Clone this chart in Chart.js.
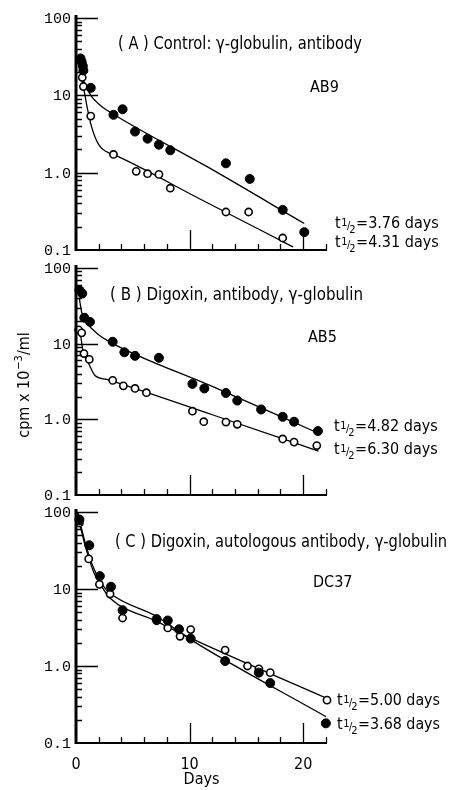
<!DOCTYPE html>
<html>
<head>
<meta charset="utf-8">
<script src="https://cdn.jsdelivr.net/npm/chart.js@4.4.1/dist/chart.umd.min.js"></script>
<style>
	body { margin: 0; background: #fff; }
	canvas { position: absolute; left: 0; }
</style>
</head>
<body>
<canvas id="chartA" width="449" height="262" style="top:0px"></canvas>
<canvas id="chartB" width="449" height="250" style="top:258px"></canvas>
<canvas id="chartC" width="449" height="285" style="top:505px"></canvas>
<script>
// axis ticks
let yTickValues = [0.1, 1, 10, 100]
let yTickLabels = ['0.1', '1.0', '10', '100']
let xTickValues = [0, 10, 20]

// (A) Control: AB9
let aFilledDays = [0.4, 0.5, 0.6, 0.65, 1.3, 3.3, 4.1, 5.2, 6.3, 7.3, 8.3, 13.2, 15.3, 18.2, 20.1]
let aFilledCpm = [30, 27, 24, 21, 12.5, 5.6, 6.6, 3.4, 2.75, 2.3, 1.95, 1.32, 0.83, 0.33, 0.17]
let aOpenDays = [0.55, 0.65, 1.3, 3.3, 5.3, 6.3, 7.3, 8.3, 13.2, 15.2, 18.2]
let aOpenCpm = [17, 13, 5.4, 1.72, 1.04, 0.97, 0.95, 0.63, 0.31, 0.31, 0.143]
let aFitFilledDays = [0.3, 0.7, 1.3, 2.1, 3.3, 11.7, 20.1]
let aFitFilledCpm = [24, 15, 10, 7.5, 5.7, 1.16, 0.22]
let aFitOpenDays = [0.35, 0.65, 1.0, 1.4, 2.0, 2.7, 3.3, 11, 19.1]
let aFitOpenCpm = [21, 13, 6.8, 3.8, 2.3, 1.86, 1.72, 0.45, 0.11]

// (B) Digoxin: AB5
let bFilledDays = [0.3, 0.55, 0.73, 1.23, 3.23, 4.26, 5.2, 7.3, 10.25, 11.3, 13.2, 14.2, 16.3, 18.2, 19.2, 21.3]
let bFilledCpm = [51, 46, 22, 19.4, 10.6, 7.7, 6.9, 6.5, 2.94, 2.56, 2.23, 1.77, 1.35, 1.08, 0.93, 0.7]
let bOpenDays = [0.23, 0.5, 0.7, 1.17, 3.23, 4.17, 5.2, 6.2, 10.25, 11.25, 13.2, 14.2, 18.2, 19.2, 21.2]
let bOpenCpm = [15.2, 13.9, 7.4, 6.2, 3.27, 2.77, 2.56, 2.25, 1.28, 0.93, 0.92, 0.86, 0.55, 0.5, 0.45]
let bFitFilledDays = [0.3, 0.5, 0.94, 1.97, 3.2, 12, 21.3]
let bFitFilledCpm = [39, 26, 19, 13.2, 10.1, 2.72, 0.66]
let bFitOpenDays = [0.35, 0.65, 1.08, 1.67, 2.7, 3.2, 12, 21.35]
let bFitOpenCpm = [14.7, 7.6, 5.6, 3.8, 3.37, 3.2, 1.15, 0.38]

// (C) Digoxin, autologous antibody: DC37
let cFilledDays = [0.3, 1.17, 2.1, 3.08, 4.1, 7.1, 8.08, 9.07, 10.1, 13.13, 16.1, 17.1, 22.0]
let cFilledCpm = [80, 37, 14.7, 10.7, 5.3, 4.07, 3.9, 3.0, 2.27, 1.16, 0.82, 0.6, 0.18]
let cOpenDays = [0.3, 1.12, 2.06, 3.0, 4.1, 7.1, 8.08, 9.16, 10.1, 13.13, 15.1, 16.1, 17.1, 22.1]
let cOpenCpm = [72, 24.6, 11.5, 8.6, 4.2, 3.87, 3.12, 2.43, 2.97, 1.61, 1.0, 0.92, 0.82, 0.36]
let cFitFilledDays = [0, 0.5, 1.0, 1.6, 2.3, 3.0, 7.1, 10.1, 22]
let cFitFilledCpm = [130, 60, 32, 18, 11.5, 8.8, 4.4, 2.2, 0.22]
let cFitOpenDays = [0, 0.5, 1.0, 1.6, 2.3, 3.0, 7.1, 10.1, 22.1]
let cFitOpenCpm = [120, 55, 29, 16, 10.5, 7.6, 3.8, 2.3, 0.38]

let sansFont = '"DejaVu Sans Condensed", "DejaVu Sans", sans-serif'
let monoFont = '"Liberation Mono", "DejaVu Sans Mono", monospace'

function toPoints(days, cpm) {
	return days.map(function (d, i) {
		return { x: d, y: cpm[i] }
	})
}

function filledSet(days, cpm) {
	return {
		data: toPoints(days, cpm),
		pointRadius: 4.5,
		pointBackgroundColor: '#000',
		pointBorderColor: '#000',
		pointBorderWidth: 1,
		showLine: false,
		clip: false,
	}
}

function openSet(days, cpm) {
	return {
		data: toPoints(days, cpm),
		pointRadius: 3.6,
		pointBackgroundColor: '#fff',
		pointBorderColor: '#000',
		pointBorderWidth: 1.6,
		showLine: false,
		clip: false,
	}
}

function fitSet(days, cpm) {
	return {
		data: toPoints(days, cpm),
		showLine: true,
		pointRadius: 0,
		borderColor: '#000',
		borderWidth: 1.3,
		cubicInterpolationMode: 'monotone',
	}
}

function drawHalfLife(ctx, x, y, value) {
	ctx.font = '16px ' + sansFont
	ctx.fillText('t', x, y)
	x += ctx.measureText('t').width + 0.5
	ctx.font = '11px ' + sansFont
	ctx.fillText('1', x, y - 2)
	x += ctx.measureText('1').width - 0.5
	ctx.fillText('/', x, y + 1)
	x += ctx.measureText('/').width - 1
	ctx.fillText('2', x, y + 5)
	x += ctx.measureText('2').width + 0.5
	ctx.font = '16px ' + sansFont
	ctx.fillText('=' + value + ' days', x, y, 440 - x)
}

let decor = {
	id: 'decor',
	afterDraw(chart, args, opts) {
		let ctx = chart.ctx
		let a = chart.chartArea
		let x = chart.scales.x
		let y = chart.scales.y
		ctx.save()
		ctx.strokeStyle = '#000'
		ctx.fillStyle = '#000'

		// axes
		ctx.lineWidth = 3
		ctx.beginPath()
		ctx.moveTo(a.left, a.top - 3)
		ctx.lineTo(a.left, a.bottom + 1)
		ctx.stroke()
		ctx.lineWidth = 2
		ctx.beginPath()
		ctx.moveTo(a.left, a.bottom)
		ctx.lineTo(a.right, a.bottom)
		ctx.stroke()

		// inward ticks
		ctx.lineWidth = 1.3
		ctx.beginPath()
		for (let d of [0.1, 1, 10]) {
			for (let m = 2; m <= 9; m++) {
				let py = Math.round(y.getPixelForValue(d * m)) + 0.5
				ctx.moveTo(a.left, py)
				ctx.lineTo(a.left + 6, py)
			}
		}
		for (let d of [1, 10, 100]) {
			let py = Math.round(y.getPixelForValue(d)) + 0.5
			ctx.moveTo(a.left, py)
			ctx.lineTo(a.left + 22, py)
		}
		for (let d = 2; d <= 22; d += 2) {
			let len = d % 10 === 0 ? 20 : 6
			let px = Math.round(x.getPixelForValue(d)) + 0.5
			ctx.moveTo(px, a.bottom)
			ctx.lineTo(px, a.bottom - len)
		}
		ctx.stroke()

		// y tick labels
		ctx.font = '15px ' + monoFont
		ctx.textAlign = 'right'
		ctx.textBaseline = 'middle'
		for (let i = 0; i < yTickValues.length; i++) {
			ctx.fillText(yTickLabels[i], a.left - 5, y.getPixelForValue(yTickValues[i]) + 1)
		}

		// texts, given in page coordinates
		ctx.translate(0, -opts.top)
		ctx.textBaseline = 'alphabetic'
		ctx.textAlign = 'left'
		ctx.font = '17px ' + sansFont
		ctx.fillText(opts.title, opts.titleX, opts.titleY, opts.titleW)
		ctx.font = '16px ' + sansFont
		ctx.fillText(opts.code, opts.codeX, opts.codeY)
		drawHalfLife(ctx, opts.halfX, opts.halfY[0], opts.halfLives[0])
		drawHalfLife(ctx, opts.halfX, opts.halfY[1], opts.halfLives[1])

		if (opts.yTitle) {
			ctx.translate(29, 385)
			ctx.rotate(-Math.PI / 2)
			let big = '16px ' + sansFont
			let small = '11px ' + sansFont
			ctx.font = big
			let w1 = ctx.measureText('cpm x 10').width
			let w3 = ctx.measureText('/ml').width
			ctx.font = small
			let w2 = ctx.measureText('\u22123').width + 1
			let sx = -(w1 + w2 + w3) / 2
			ctx.font = big
			ctx.fillText('cpm x 10', sx, 0)
			ctx.font = small
			ctx.fillText('\u22123', sx + w1 + 1, -7)
			ctx.font = big
			ctx.fillText('/ml', sx + w1 + w2, 0)
		}
		ctx.restore()
	},
}

function makeOptions(padTop, padBottom, showX, decorOpts) {
	return {
		responsive: false,
		animation: false,
		events: [],
		layout: { padding: { top: padTop, right: 122, bottom: padBottom, left: 0 } },
		plugins: {
			legend: { display: false },
			tooltip: { enabled: false },
			decor: decorOpts,
		},
		scales: {
			x: {
				type: 'linear',
				min: 0,
				max: 22.1,
				display: showX,
				afterBuildTicks: function (scale) {
					scale.ticks = xTickValues.map(function (v) {
						return { value: v }
					})
				},
				afterFit: function (scale) {
					if (showX) scale.height = 47
				},
				grid: { display: false },
				border: { display: false },
				ticks: {
					color: '#000',
					padding: 4,
					autoSkip: false,
					maxRotation: 0,
					font: { family: sansFont, size: 16 },
				},
				title: {
					display: true,
					text: 'Days',
					color: '#000',
					padding: { top: 0, bottom: 1 },
					font: { family: sansFont, size: 16 },
				},
			},
			y: {
				type: 'logarithmic',
				min: 0.1,
				max: 100,
				afterFit: function (scale) {
					scale.width = 76
				},
				grid: { display: false },
				border: { display: false },
				ticks: { display: false },
			},
		},
	}
}

new Chart(document.getElementById('chartA'), {
	type: 'scatter',
	data: {
		datasets: [
			filledSet(aFilledDays, aFilledCpm),
			openSet(aOpenDays, aOpenCpm),
			fitSet(aFitFilledDays, aFitFilledCpm),
			fitSet(aFitOpenDays, aFitOpenCpm),
		],
	},
	options: makeOptions(18, 12, false, {
		top: 0,
		title: '( A ) Control: \u03b3-globulin, antibody',
		titleX: 118,
		titleY: 49,
		titleW: 244,
		code: 'AB9',
		codeX: 310,
		codeY: 92,
		halfLives: ['3.76', '4.31'],
		halfX: 335,
		halfY: [228, 247],
	}),
	plugins: [decor],
})

new Chart(document.getElementById('chartB'), {
	type: 'scatter',
	data: {
		datasets: [
			filledSet(bFilledDays, bFilledCpm),
			openSet(bOpenDays, bOpenCpm),
			fitSet(bFitFilledDays, bFitFilledCpm),
			fitSet(bFitOpenDays, bFitOpenCpm),
		],
	},
	options: makeOptions(10, 13, false, {
		top: 258,
		title: '( B ) Digoxin, antibody, \u03b3-globulin',
		titleX: 110,
		titleY: 300,
		titleW: 253,
		code: 'AB5',
		codeX: 308,
		codeY: 342,
		halfLives: ['4.82', '6.30'],
		halfX: 334,
		halfY: [431, 454],
		yTitle: true,
	}),
	plugins: [decor],
})

new Chart(document.getElementById('chartC'), {
	type: 'scatter',
	data: {
		datasets: [
			filledSet(cFilledDays, cFilledCpm),
			openSet(cOpenDays, cOpenCpm),
			fitSet(cFitFilledDays, cFitFilledCpm),
			fitSet(cFitOpenDays, cFitOpenCpm),
		],
	},
	options: makeOptions(7, 0, true, {
		top: 505,
		title: '( C ) Digoxin, autologous antibody, \u03b3-globulin',
		titleX: 115,
		titleY: 547,
		titleW: 332,
		code: 'DC37',
		codeX: 313,
		codeY: 587,
		halfLives: ['5.00', '3.68'],
		halfX: 337,
		halfY: [705, 729],
	}),
	plugins: [decor],
})
</script>
</body>
</html>
